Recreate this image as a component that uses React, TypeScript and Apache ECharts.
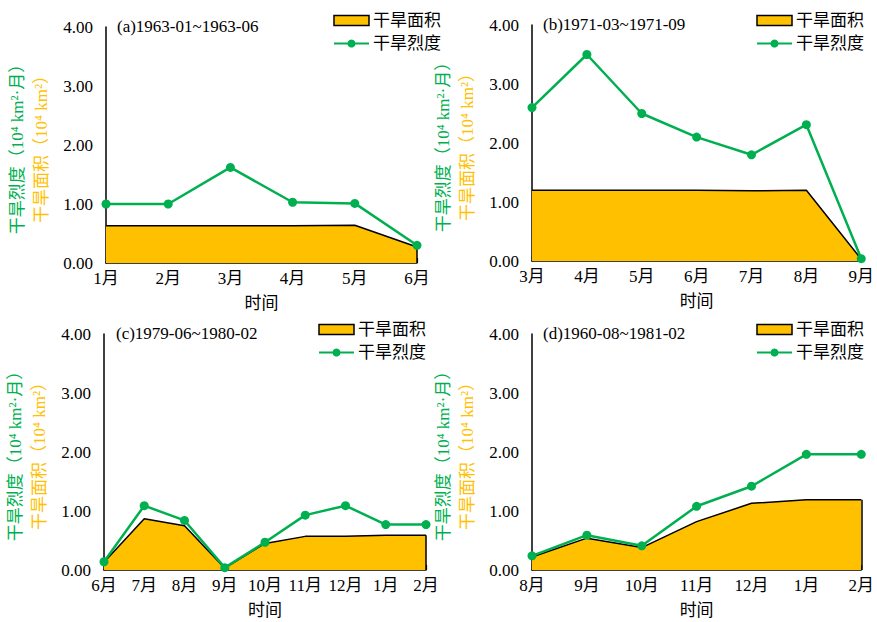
import React, { useEffect, useRef } from "react";
import * as echarts from "echarts";

// Panel (a)
const catsA = ["1月", "2月", "3月", "4月", "5月", "6月"];
const areaA = [0.63, 0.63, 0.63, 0.63, 0.64, 0.27];
const sevA = [1.0, 1.0, 1.62, 1.03, 1.01, 0.3];
// Panel (b)
const catsB = ["3月", "4月", "5月", "6月", "7月", "8月", "9月"];
const areaB = [1.2, 1.2, 1.2, 1.2, 1.19, 1.2, 0.03];
const sevB = [2.6, 3.5, 2.5, 2.1, 1.8, 2.31, 0.04];
// Panel (c)
const catsC = ["6月", "7月", "8月", "9月", "10月", "11月", "12月", "1月", "2月"];
const areaC = [0.13, 0.87, 0.75, 0.03, 0.45, 0.57, 0.57, 0.59, 0.59];
const sevC = [0.14, 1.09, 0.84, 0.04, 0.47, 0.93, 1.09, 0.77, 0.77];
// Panel (d)
const catsD = ["8月", "9月", "10月", "11月", "12月", "1月", "2月"];
const areaD = [0.22, 0.54, 0.38, 0.82, 1.13, 1.19, 1.19];
const sevD = [0.24, 0.59, 0.41, 1.08, 1.42, 1.96, 1.96];

const titles = ["(a)1963-01~1963-06", "(b)1971-03~1971-09", "(c)1979-06~1980-02", "(d)1960-08~1981-02"];
const yTicks = [0, 1, 2, 3, 4];
const areaName = "干旱面积";
const sevName = "干旱烈度";
const xName = "时间";

const FONT = '"Liberation Serif", "Noto Sans CJK SC", serif';
const GOLD = "#FFC000";
const GREEN = "#00B050";
const FS = 17;

const panels = [
  { cats: catsA, area: areaA, sev: sevA, grid: { left: 106, top: 27, width: 311, height: 236 }, legend: { left: 333, top: 12 }, title: { x: 117, y: 18 } },
  { cats: catsB, area: areaB, sev: sevB, grid: { left: 532, top: 25, width: 330, height: 236 }, legend: { left: 756, top: 12 }, title: { x: 543, y: 16 } },
  { cats: catsC, area: areaC, sev: sevC, grid: { left: 104, top: 334, width: 322, height: 236 }, legend: { left: 318, top: 321 }, title: { x: 116, y: 325 } },
  { cats: catsD, area: areaD, sev: sevD, grid: { left: 532, top: 334, width: 332, height: 236 }, legend: { left: 756, top: 321 }, title: { x: 543, y: 325 } },
];

export default function App() {
  const ref = useRef<HTMLDivElement>(null);
  useEffect(() => {
    document.body.style.margin = "0";
    const chart = echarts.init(ref.current!, undefined, { renderer: "svg" });
    const option: any = {
      animation: false,
      backgroundColor: "#ffffff",
      textStyle: { fontFamily: FONT },
      grid: panels.map((p) => ({ ...p.grid })),
      xAxis: panels.map((p, i) => ({
        type: "category",
        gridIndex: i,
        data: p.cats,
        boundaryGap: false,
        name: xName,
        nameLocation: "middle",
        nameGap: 32,
        nameTextStyle: { fontSize: FS, color: "#000", fontFamily: FONT },
        axisLine: { show: true, lineStyle: { color: "#000", width: 1.5 } },
        axisTick: { show: true, inside: true, length: 5, lineStyle: { color: "#000", width: 1.2 } },
        axisLabel: { fontSize: FS, color: "#000", margin: 7, fontFamily: FONT, interval: 0 },
        splitLine: { show: false },
      })),
      yAxis: panels.map((p, i) => ({
        type: "value",
        gridIndex: i,
        min: yTicks[0],
        max: yTicks[yTicks.length - 1],
        interval: 1,
        name: `{g|${sevName}（10⁴ km²·月）}\n{o|${areaName}（10⁴ km²）}`,
        nameLocation: "middle",
        nameRotate: 90,
        nameGap: 53,
        nameTextStyle: {
          fontFamily: FONT,
          lineHeight: 24,
          rich: {
            g: { color: GREEN, fontSize: FS, fontFamily: FONT, lineHeight: 24 },
            o: { color: GOLD, fontSize: FS, fontFamily: FONT, lineHeight: 24 },
          },
        },
        axisLine: { show: true, lineStyle: { color: "#000", width: 1.5 } },
        axisTick: { show: false },
        axisLabel: { fontSize: FS, color: "#000", margin: 13, fontFamily: FONT, formatter: (v: number) => v.toFixed(2) },
        splitLine: { show: false },
      })),
      legend: panels.map((p) => ({
        orient: "vertical",
        left: p.legend.left,
        top: p.legend.top,
        padding: 0,
        itemWidth: 35,
        itemHeight: 10,
        itemGap: 6,
        textStyle: { fontSize: FS, color: "#000", fontFamily: FONT, padding: [0, 0, 0, -1] },
        data: [
          { name: areaName, icon: "rect", itemStyle: { color: GOLD, borderColor: "#000", borderWidth: 1.5 } },
          { name: sevName },
        ],
        selectedMode: false,
      })),
      graphic: panels.map((p, i) => ({
        type: "text",
        left: p.title.x,
        top: p.title.y,
        style: { text: titles[i], font: `${FS}px ${FONT}`, fill: "#000" },
      })),
      series: panels.flatMap((p, i) => [
        {
          name: areaName,
          type: "line",
          xAxisIndex: i,
          yAxisIndex: i,
          data: p.area,
          symbol: "none",
          lineStyle: { color: "#000", width: 1.5 },
          itemStyle: { color: GOLD },
          areaStyle: { color: GOLD, opacity: 1 },
          z: 2,
          markLine: {
            silent: true,
            symbol: "none",
            label: { show: false },
            lineStyle: { color: "#000", width: 1.5, type: "solid" },
            data: [
              [
                { coord: [p.cats[p.cats.length - 1], 0] },
                { coord: [p.cats[p.cats.length - 1], p.area[p.area.length - 1]] },
              ],
            ],
          },
        },
        {
          name: sevName,
          type: "line",
          xAxisIndex: i,
          yAxisIndex: i,
          data: p.sev,
          symbol: "circle",
          symbolSize: 9,
          lineStyle: { color: GREEN, width: 2.5 },
          itemStyle: { color: GREEN },
          z: 5,
        },
      ]),
    };
    chart.setOption(option);
    return () => chart.dispose();
  }, []);
  return <div ref={ref} style={{ width: 877, height: 622 }} />;
}
